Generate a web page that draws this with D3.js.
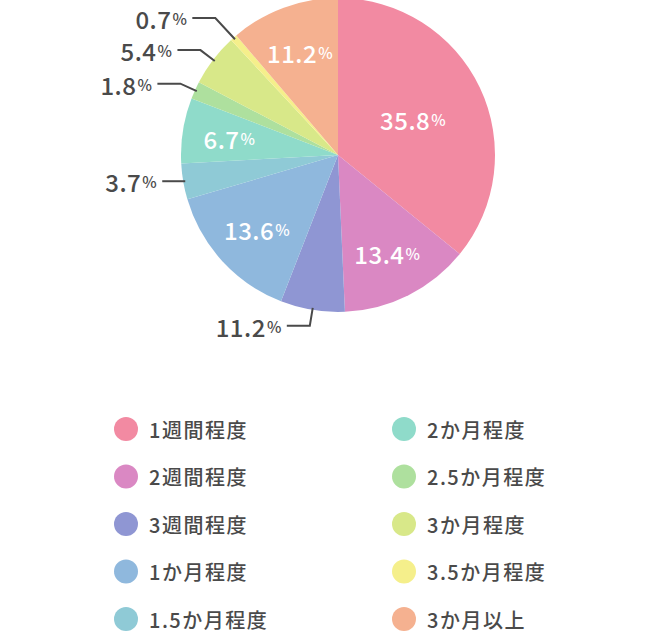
<!DOCTYPE html>
<html>
<head>
<meta charset="utf-8">
<script src="https://cdn.jsdelivr.net/npm/d3@7"></script>
<style>
  html, body { margin: 0; padding: 0; background: #fff; }
  text { font-family: "Noto Sans CJK JP", "Noto Sans", sans-serif; }
</style>
</head>
<body>
<svg id="chart" width="670" height="634"></svg>
<script>
// categories, in drawing order (clockwise from 12 o'clock)
const categories = ["1週間程度", "2週間程度", "3週間程度", "1か月程度", "1.5か月程度",
                    "2か月程度", "2.5か月程度", "3か月程度", "3.5か月程度", "3か月以上"];
// slice sizes
const values = [35.8, 13.4, 6.6, 14.5, 3.7, 6.7, 1.8, 5.4, 0.7, 11.2];
// the numbers printed on the chart
const labelText = ["35.8", "13.4", "11.2", "13.6", "3.7", "6.7", "1.8", "5.4", "0.7", "11.2"];
const colors = ["#f28aa2", "#da88c3", "#8f96d3", "#8fb8dd", "#8fcad6",
                "#8fdbca", "#aee09e", "#d8e889", "#f5ef8b", "#f5b190"];
// slices whose label sits outside with a leader line
const outsideLabels = ["3週間程度", "1.5か月程度", "2.5か月程度", "3か月程度", "3.5か月程度"];

const svg = d3.select("#chart");
const cx = 338, cy = 155, radius = 157;
const textColor = "#4a4a4a";

const color = d3.scaleOrdinal().domain(categories).range(colors);

const pie = d3.pie().sort(null).value((d, i) => values[i]);
const arcs = pie(categories);

const arc = d3.arc().innerRadius(0).outerRadius(radius);

const g = svg.append("g").attr("transform", `translate(${cx},${cy})`);

g.selectAll("path")
  .data(arcs)
  .enter()
  .append("path")
  .attr("d", arc)
  .attr("fill", d => color(d.data));

const mid = d => (d.startAngle + d.endAngle) / 2;
const polar = (a, r) => [r * Math.sin(a), -r * Math.cos(a)];

function addLabel(sel, txt, size, fill) {
  sel.append("tspan").text(txt).attr("font-size", size);
  sel.append("tspan").text("%").attr("font-size", size * 0.64).attr("dx", 1);
  sel.attr("fill", fill);
}

// inside labels
arcs.filter(d => !outsideLabels.includes(d.data)).forEach(d => {
  const i = categories.indexOf(d.data);
  const lr = values[i] > 20 ? radius * 0.53 : radius * 0.7;
  const [x, y] = polar(mid(d), lr);
  const t = g.append("text")
    .attr("x", x).attr("y", y)
    .attr("text-anchor", "middle")
    .attr("dominant-baseline", "central")
    .attr("font-weight", 500)
    .attr("letter-spacing", 0.5);
  addLabel(t, labelText[i], 24, "#fff");
});

// outside labels with leader lines
const outs = arcs.filter(d => outsideLabels.includes(d.data)).map(d => {
  const a = mid(d);
  const p0 = polar(a, radius - 2);
  let p1 = polar(a, radius + 16);
  // nearly horizontal leaders go straight out
  if (Math.abs(Math.cos(a)) < 0.25) p1 = [p0[0], p0[1]];
  return { d, a, p0, x: p1[0], y: p1[1] };
});
// push up labels that would overlap, working from the bottom
const spacing = 32;
outs.slice().sort((a, b) => b.y - a.y).reduce((prev, o) => {
  if (prev && prev.y - o.y < spacing) {
    const push = o.y - (prev.y - spacing);
    o.y -= push;
    o.x -= push;
  }
  return o;
}, null);

outs.forEach(o => {
  const i = categories.indexOf(o.d.data);
  const left = Math.sin(o.a) < 0;
  const x2 = o.x + (left ? -23 : 23);
  g.append("path")
    .attr("d", d3.line()([o.p0, [o.x, o.y], [x2, o.y]]))
    .attr("fill", "none")
    .attr("stroke", textColor)
    .attr("stroke-width", 2);
  const t = g.append("text")
    .attr("x", x2 + (left ? -5 : 5))
    .attr("y", o.y)
    .attr("text-anchor", left ? "end" : "start")
    .attr("dominant-baseline", "central")
    .attr("font-weight", 500)
    .attr("letter-spacing", 0.5);
  addLabel(t, labelText[i], 24, textColor);
});

// legend: two columns of five
const legendRow = d3.scalePoint().domain(d3.range(5)).range([429, 619]);
const legendCol = d3.scalePoint().domain([0, 1]).range([126, 404]);

const legend = svg.append("g")
  .selectAll("g")
  .data(categories)
  .enter()
  .append("g")
  .attr("transform", (d, i) => `translate(${legendCol(Math.floor(i / 5))},${legendRow(i % 5)})`);

legend.append("circle")
  .attr("r", 12)
  .attr("fill", d => color(d));

legend.append("text")
  .attr("x", 23)
  .attr("dominant-baseline", "central")
  .attr("font-size", 20)
  .attr("font-weight", 500)
  .attr("letter-spacing", 1.5)
  .attr("fill", textColor)
  .text(d => d);
</script>
</body>
</html>
